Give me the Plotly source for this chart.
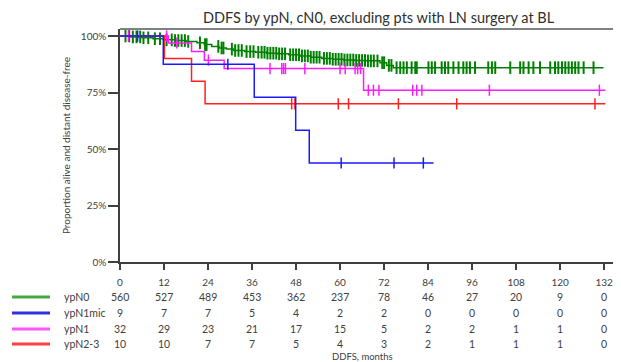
import plotly.graph_objects as go

# ---------------- data ----------------
groups = ["ypN0", "ypN1mic", "ypN1", "ypN2-3"]
curve_colors = ["#008000", "#1a1aff", "#ff1aff", "#ff2020"]
legend_colors = ["#44aa44", "#3030e0", "#ff55ff", "#ff4040"]

# step functions (time in months, survival in %)
t_ypN0 = [0, 3, 6, 9, 12, 15, 18, 21, 23, 25, 27, 29, 31, 34, 37, 40, 43, 46, 49, 52,
          55, 58, 61, 64, 67, 70.9, 72.7, 74.5, 131.8]
s_ypN0 = [100, 99.6, 99.2, 98.8, 98.3, 98.0, 97.6, 97.0, 96.2, 95.4, 94.7, 94.2, 93.6, 93.1,
          92.8, 92.4, 92.1, 91.7, 91.2, 90.6, 90.1, 89.7, 89.4, 89.2, 89.0, 88.2, 87.0, 86.0, 86.0]
c_ypN0 = [1.5, 2.5, 3.5, 4.5, 5.5, 6.4, 7.7, 9.5, 10.9, 12.7, 14.1, 15.0, 15.9, 16.8, 17.7,
          18.6, 21.8, 23.2, 23.6, 26.8, 27.7, 28.2, 30.5, 31.4, 32.3, 33.2, 34.5, 35.5, 36.4,
          37.7, 38.6, 39.4, 40.2, 41.0, 41.8, 42.6, 43.4, 44.2, 45.0, 46.4, 47.2, 48.0, 48.8,
          49.6, 50.4, 51.2, 52.0, 52.8, 53.6, 54.4, 55.6, 56.4, 57.2, 58.0, 58.8, 59.6, 60.4,
          61.2, 62.0, 62.8, 63.6, 64.4, 65.2, 66.0, 66.8, 67.6, 68.4, 69.2, 70.2, 71.5, 72.0,
          73.3, 74.0, 75.4, 76.4, 77.3, 78.2, 79.5, 80.5, 80.9, 84.1, 85.0, 85.9, 87.7, 88.6,
          89.5, 90.9, 92.3, 93.6, 94.5, 95.4, 96.8, 100.4, 101.4, 102.3, 106.4, 109.1, 110.0,
          111.4, 112.7, 114.5, 117.3, 118.6, 119.5, 120.5, 121.4, 122.3, 123.2, 124.1, 125.0,
          126.4, 129.1]

t_ypN1mic = [0, 11.8, 36.6, 47.9, 51.6, 85.5]
s_ypN1mic = [100, 87.5, 72.9, 58.3, 43.8, 43.8]
c_ypN1mic = [4.8, 29.4, 60.3, 74.7, 82.7]

t_ypN1 = [0, 13.2, 19.5, 23.0, 28.4, 66.4, 132.3]
s_ypN1 = [100, 96.9, 93.1, 89.3, 85.6, 76.0, 76.0]
c_ypN1 = [2.3, 12.7, 15.5, 24.1, 40.9, 44.1, 44.6, 45.1, 50.4, 60.0, 61.4, 64.1, 64.8, 65.6,
          67.7, 69.1, 70.6, 79.8, 80.9, 82.3, 100.7, 130.7]

t_ypN23 = [0, 12.1, 19.5, 23.2, 132.3]
s_ypN23 = [100, 90, 80, 70, 70]
c_ypN23 = [46.8, 47.7, 59.5, 62.3, 75.9, 91.8, 129.5]

times = [t_ypN0, t_ypN1mic, t_ypN1, t_ypN23]
survs = [s_ypN0, s_ypN1mic, s_ypN1, s_ypN23]
cens = [c_ypN0, c_ypN1mic, c_ypN1, c_ypN23]

risk_times = [0, 12, 24, 36, 48, 60, 72, 84, 96, 108, 120, 132]
risk_ypN0 = [560, 527, 489, 453, 362, 237, 78, 46, 27, 20, 9, 0]
risk_ypN1mic = [9, 7, 7, 5, 4, 2, 2, 0, 0, 0, 0, 0]
risk_ypN1 = [32, 29, 23, 21, 17, 15, 5, 2, 2, 1, 1, 0]
risk_ypN23 = [10, 10, 7, 7, 5, 4, 3, 2, 1, 1, 1, 0]
risks = [risk_ypN0, risk_ypN1mic, risk_ypN1, risk_ypN23]

y_ticks = [0, 25, 50, 75, 100]
y_ticklabels = ["0%", "25%", "50%", "75%", "100%"]

title_text = "DDFS by ypN, cN0, excluding pts with LN surgery at BL"
y_title = "Proportion alive and distant disease-free"
x_title = "DDFS, months"


def surv_at(tt, ss, t):
    v = ss[0]
    for a, b in zip(tt, ss):
        if a <= t:
            v = b
    return v


FONT = "Lato, 'Open Sans', sans-serif"
fig = go.Figure()

for i in [0, 2, 3, 1]:
    fig.add_trace(go.Scatter(x=times[i], y=survs[i], mode="lines", line_shape="hv",
                             line=dict(color=curve_colors[i], width=1.5),
                             showlegend=False, hoverinfo="skip"))
    cy = [surv_at(times[i], survs[i], c) for c in cens[i]]
    fig.add_trace(go.Scatter(x=cens[i], y=cy, mode="markers",
                             marker=dict(symbol="line-ns", size=9 if i == 0 else 8,
                                         line=dict(color=curve_colors[i],
                                                   width=2 if i == 0 else 1.5)),
                             showlegend=False, hoverinfo="skip"))

# page has an 8px body margin: work in page pixels
OFF = 8
PLOT_TOP, PLOT_BOT, PLOT_L, PLOT_R = 29, 262, 120, 617
PLOT_H = float(PLOT_BOT - PLOT_TOP)
PLOT_W = float(PLOT_R - PLOT_L)


def py(ypx):
    return (PLOT_BOT - ypx) / PLOT_H


def px(xpx):
    return (xpx - PLOT_L) / PLOT_W


row_y = [297, 313, 329, 344]
annotations = []
shapes = []
for i, g in enumerate(groups):
    yy = py(row_y[i])
    annotations.append(dict(x=px(62), y=yy, xref="paper", yref="paper", text=g,
                            showarrow=False, xanchor="left", yanchor="middle",
                            font=dict(family=FONT, size=10.5, color="#404040")))
    shapes.append(dict(type="line", xref="paper", yref="paper", x0=px(12), x1=px(50),
                       y0=yy, y1=yy, line=dict(color=legend_colors[i], width=3)))
    for t, n in zip(risk_times, risks[i]):
        annotations.append(dict(x=t, y=yy, xref="x", yref="paper", text=str(n),
                                showarrow=False, xanchor="center", yanchor="middle",
                                font=dict(family=FONT, size=10.5, color="#404040")))

annotations.append(dict(x=px(362), y=py(356.5), xref="paper", yref="paper", text=x_title,
                        showarrow=False, xanchor="center", yanchor="middle",
                        font=dict(family=FONT, size=9.5, color="#404040")))
annotations.append(dict(x=px(379), y=py(17), xref="paper", yref="paper", text=title_text,
                        showarrow=False, xanchor="center", yanchor="middle",
                        font=dict(family=FONT, size=14.5, color="#303030")))

shapes.append(dict(type="line", xref="paper", yref="paper", x0=0, x1=1, y0=1, y1=1,
                   line=dict(color="#808080", width=2)))

W, H = 621 - OFF, 362 - OFF
fig.update_layout(
    width=W, height=H,
    margin=dict(l=PLOT_L - OFF, r=W + OFF - PLOT_R, t=PLOT_TOP - OFF, b=H + OFF - PLOT_BOT),
    paper_bgcolor="white", plot_bgcolor="white",
    font=dict(family=FONT, color="#404040"),
    annotations=annotations, shapes=shapes,
    showlegend=False,
)
fig.update_xaxes(range=[0, 135.5], tickvals=risk_times, ticktext=[str(t) for t in risk_times],
                 showgrid=False, zeroline=False, showline=True, linecolor="#404040",
                 linewidth=1.5, ticks="outside", ticklen=6, tickwidth=1.5, tickcolor="#404040",
                 ticklabelstandoff=4,
                 tickfont=dict(family=FONT, size=10, color="#404040"))
fig.update_yaxes(range=[0, 103.1], tickvals=y_ticks, ticktext=y_ticklabels,
                 showgrid=False, zeroline=False, showline=True, linecolor="#404040",
                 linewidth=1.5, ticks="outside", ticklen=10, tickwidth=1.5, tickcolor="#404040",
                 tickfont=dict(family=FONT, size=10, color="#404040"),
                 title=dict(text=y_title, font=dict(family=FONT, size=10, color="#404040"),
                            standoff=8))

fig.write_html("out.html")
